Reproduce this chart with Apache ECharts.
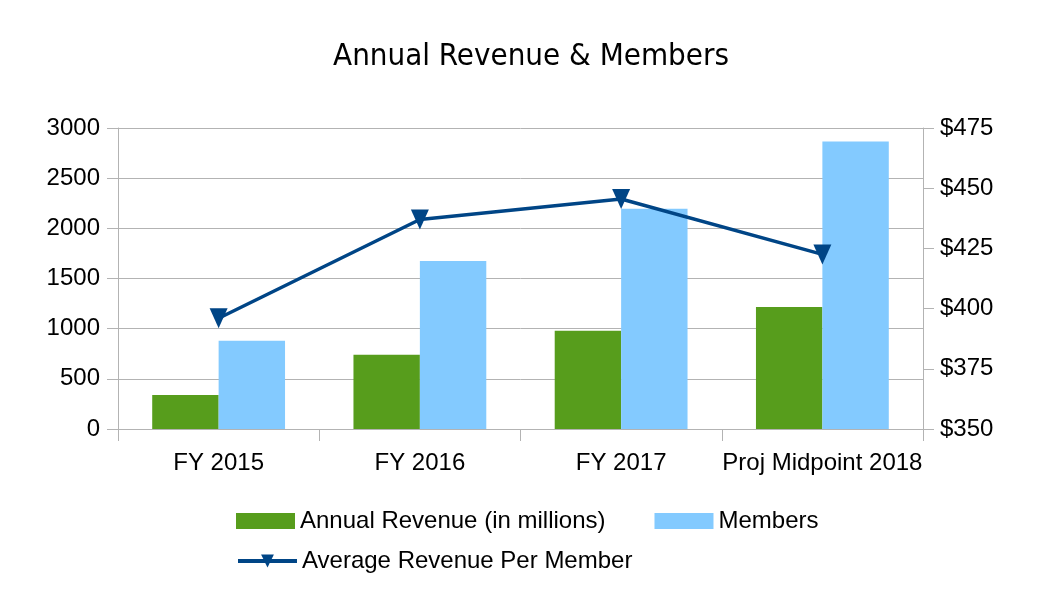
<!DOCTYPE html>
<html>
<head>
<meta charset="utf-8">
<script src="https://cdn.jsdelivr.net/npm/echarts@6/dist/echarts.min.js"></script>
<style>html,body{margin:0;padding:0;background:#fff}#c{width:1062px;height:596px}</style>
</head>
<body>
<div id="c"></div>
<script>
const categories = ['FY 2015', 'FY 2016', 'FY 2017', 'Proj Midpoint 2018'];
const annualRevenue = [340, 740, 980, 1215];
const members = [880, 1675, 2195, 2865];
const avgRevenuePerMember = [396, 437, 445.5, 422.5];
const leftTicks = [0, 3000, 500];
const rightTicks = [350, 475, 25];

const chart = echarts.init(document.getElementById('c'), null, {renderer: 'canvas'});
const labelFont = {fontFamily: 'Liberation Sans', fontSize: 24, color: '#000'};
chart.setOption({
  animation: false,
  backgroundColor: '#fff',
  title: {
    text: 'Annual Revenue & Members',
    left: 'center', top: 36,
    textStyle: {fontFamily: 'DejaVu Sans Condensed, DejaVu Sans', fontSize: 31, fontWeight: 'normal', color: '#000'}
  },
  legend: [{
    left: 236, top: 509, padding: 0, itemWidth: 59, itemHeight: 16, itemGap: 49,
    textStyle: labelFont,
    data: [{name: 'Annual Revenue (in millions)', icon: 'rect'}, {name: 'Members', icon: 'rect'}]
  }, {
    left: 236, top: 549, padding: 0, itemWidth: 59, itemHeight: 16, itemGap: 40,
    textStyle: labelFont,
    lineStyle: {width: 4},
    data: ['Average Revenue Per Member']
  }],
  grid: {left: 118, right: 139, top: 128, bottom: 167},
  xAxis: {
    type: 'category', data: categories,
    axisLine: {lineStyle: {color: '#b3b3b3', width: 1}},
    axisTick: {show: true, interval: 0, length: 12, lineStyle: {color: '#b3b3b3'}},
    axisLabel: Object.assign({margin: 22, interval: 0}, labelFont)
  },
  yAxis: [{
    type: 'value', min: leftTicks[0], max: leftTicks[1], interval: leftTicks[2],
    axisLine: {show: true, lineStyle: {color: '#b3b3b3'}},
    axisTick: {show: true, length: 11, lineStyle: {color: '#b3b3b3'}},
    splitLine: {lineStyle: {color: '#b3b3b3'}},
    axisLabel: Object.assign({margin: 18, formatter: function (v) { return String(v); }}, labelFont)
  }, {
    type: 'value', min: rightTicks[0], max: rightTicks[1], interval: rightTicks[2],
    position: 'right',
    axisLine: {show: true, lineStyle: {color: '#b3b3b3'}},
    axisTick: {show: true, length: 11, lineStyle: {color: '#b3b3b3'}},
    splitLine: {show: false},
    axisLabel: Object.assign({margin: 17, formatter: '${value}'}, labelFont)
  }],
  series: [{
    name: 'Annual Revenue (in millions)', type: 'bar', data: annualRevenue,
    itemStyle: {color: '#579d1c'}, barGap: '0%', barCategoryGap: '34%'
  }, {
    name: 'Members', type: 'bar', data: members,
    itemStyle: {color: '#83caff'}, barGap: '0%', barCategoryGap: '34%'
  }, {
    name: 'Average Revenue Per Member', type: 'line', yAxisIndex: 1, data: avgRevenuePerMember,
    symbol: 'triangle', symbolRotate: 180, symbolSize: [18, 20],
    lineStyle: {color: '#004586', width: 3.5},
    itemStyle: {color: '#004586'}
  }]
});
</script>
</body>
</html>
